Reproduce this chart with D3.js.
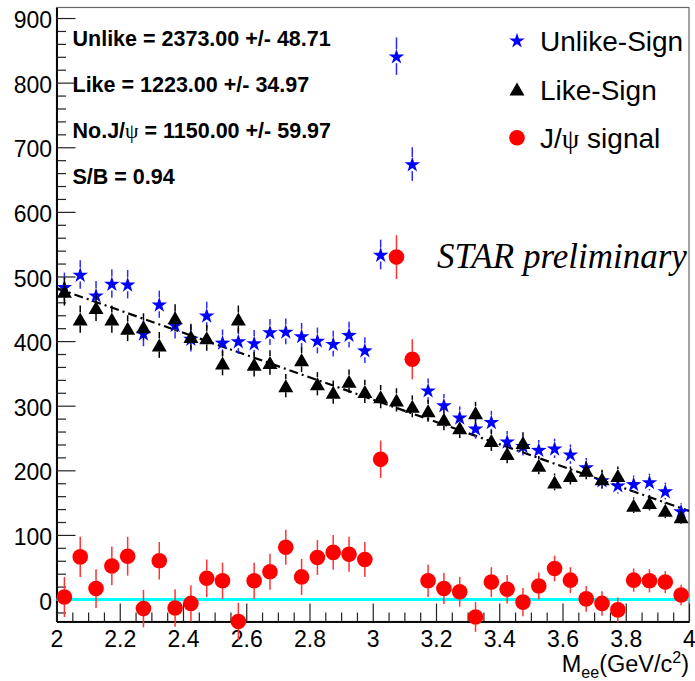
<!DOCTYPE html>
<html><head><meta charset="utf-8">
<script src="https://cdn.jsdelivr.net/npm/d3@7/dist/d3.min.js"></script>
<style>body{margin:0;background:#fff} svg{display:block}</style>
</head><body>
<svg id="c" width="695" height="681"></svg>
<script>
// ---- data ----
const binCenters = [2.025,2.075,2.125,2.175,2.225,2.275,2.325,2.375,2.425,2.475,
  2.525,2.575,2.625,2.675,2.725,2.775,2.825,2.875,2.925,2.975,
  3.025,3.075,3.125,3.175,3.225,3.275,3.325,3.375,3.425,3.475,
  3.525,3.575,3.625,3.675,3.725,3.775,3.825,3.875,3.925,3.975];
const unlike = [484,503,471,489,488,412,457,425,404,440,
  398,400,397,414,415,408,401,396,410,386,
  534,841,674,324,301,282,265,275,245,238,
  232,234,225,205,185,177,179,182,168,137];
const unlikeErr = [22,22,22,22,22,20,21,21,20,21,
  20,20,20,20,20,20,20,20,20,20,
  23,29,26,18,17,17,16,17,16,15,
  15,15,15,14,14,13,13,13,13,12];
const like = [477,434,452,434,420,422,394,436,407,405,
  366,434,364,367,331,371,334,321,338,322,
  314,309,299,292,279,266,289,246,226,243,
  208,182,192,200,187,192,146,150,138,128];
const likeErr = [22,21,21,21,20,21,20,21,20,20,
  19,21,19,19,18,19,18,18,18,18,
  18,18,17,17,17,16,17,16,15,16,
  14,13,14,14,14,14,12,12,12,11];
const jpsi = [4,66,17,52,67,-14,60,-13,-6,33,
  29,-34,29,43,81,35,65,73,70,62,
  217,530,372,29,17,12,-27,27,16,-4,
  21,48,30,1,-6,-16,30,29,27,7];
const jpsiErr = [31,31,30,30,30,29,29,29,28,29,
  28,29,28,28,27,28,27,27,27,27,
  29,34,31,25,24,23,23,23,22,22,
  21,20,20,20,19,19,18,18,17,16];
const fitX = [2.0, 4.0];
const fitY = [482, 137];
const yTicks = [0,100,200,300,400,500,600,700,800,900];
const xTicks = [2,2.2,2.4,2.6,2.8,3,3.2,3.4,3.6,3.8,4];
const xTickLabels = ["2","2.2","2.4","2.6","2.8","3","3.2","3.4","3.6","3.8","4"];
const statLines = ["Unlike = 2373.00 +/- 48.71","Like = 1223.00 +/- 34.97",
  "No.J/\u03c8 = 1150.00 +/- 59.97","S/B = 0.94"];
const legendLabels = ["Unlike-Sign","Like-Sign","J/\u03c8 signal"];
const watermark = "STAR preliminary";

// ---- drawing ----
const SANS = "'Liberation Sans', Arial, Helvetica, sans-serif";
const SERIF = "'Liberation Serif', 'Times New Roman', serif";
const svg = d3.select("#c");
const x = d3.scaleLinear().domain([2,4]).range([56.5,689]);
const y = d3.scaleLinear().domain([-34,916.3]).range([621.5,7.5]);

// frame
svg.append("rect").attr("x",x(2)).attr("y",y(916.3)).attr("width",x(4)-x(2))
  .attr("height",y(-34)-y(916.3)).attr("fill","none").attr("stroke","#666").attr("stroke-width",1.2);

// y axis
const yMinor = d3.range(-20, 901, 20).filter(v => v % 100 !== 0);
svg.append("g").attr("transform",`translate(${x(2)},0)`)
  .call(d3.axisLeft(y).tickValues(yMinor).tickSize(-9.5).tickSizeOuter(0).tickFormat(""));
const gy = svg.append("g").attr("transform",`translate(${x(2)},0)`)
  .call(d3.axisLeft(y).tickValues(yTicks).tickSize(-19).tickSizeOuter(0).tickPadding(4.5)
  .tickFormat(d => String(d)));
gy.selectAll("text").attr("font-family",SANS).attr("font-size",23).attr("fill","#000").attr("dy","0.42em");

// x axis
const xMinor = d3.range(2.05, 4, 0.05).filter(v => Math.abs(v*5 - Math.round(v*5)) > 1e-6);
svg.append("g").attr("transform",`translate(0,${y(-34)})`)
  .call(d3.axisBottom(x).tickValues(xMinor).tickSize(-9).tickSizeOuter(0).tickFormat(""));
const gx = svg.append("g").attr("transform",`translate(0,${y(-34)})`)
  .call(d3.axisBottom(x).tickValues(xTicks).tickSize(-18).tickSizeOuter(0).tickPadding(9)
  .tickFormat((d,i) => xTickLabels[i]));
gx.selectAll("text").attr("font-family",SANS).attr("font-size",23).attr("fill","#000");
svg.selectAll(".domain").attr("stroke","#000").attr("stroke-width",1.6);
svg.selectAll(".tick line").attr("stroke","#222").attr("stroke-width",1.2);

// x axis title
const xt = svg.append("text").attr("x",689).attr("y",672).attr("text-anchor","end")
  .attr("font-family",SANS).attr("font-size",23.5).attr("fill","#000");
xt.append("tspan").text("M");
xt.append("tspan").attr("font-size",16).attr("dy",6).text("ee");
xt.append("tspan").attr("dy",-6).text("(GeV/c");
xt.append("tspan").attr("font-size",16).attr("dy",-9).text("2");
xt.append("tspan").attr("dy",9).text(")");

// cyan zero line
svg.append("line").attr("x1",x(2)).attr("x2",x(4)).attr("y1",y(0)).attr("y2",y(0))
  .attr("stroke","#00ffff").attr("stroke-width",3);

// fit line (dash-dot)
svg.append("path").datum(fitX.map((v,i)=>[v,fitY[i]]))
  .attr("d", d3.line().x(d=>x(d[0])).y(d=>y(d[1])))
  .attr("fill","none").attr("stroke","#000").attr("stroke-width",2.2)
  .attr("stroke-dasharray","9,4,2,4");

// marker shapes
function starPath(R){
  const r = R*0.382; let p = "";
  for (let k=0;k<10;k++){
    const a = -Math.PI/2 + k*Math.PI/5;
    const rr = k%2===0 ? R : r;
    p += (k===0?"M":"L") + (rr*Math.cos(a)).toFixed(2) + "," + (rr*Math.sin(a)+R*0.095).toFixed(2);
  }
  return p + "Z";
}
function triPath(w,h){ return `M0,${-h/2}L${w/2},${h/2}L${-w/2},${h/2}Z`; }

function drawSeries(vals, errs, color, errColor, gap, drawMarker){
  const g = svg.append("g");
  vals.forEach((v,i)=>{
    const cx = x(binCenters[i]), cy = y(v);
    const top = y(v+errs[i]), bot = y(v-errs[i]);
    if (cy - gap > top) g.append("line").attr("x1",cx).attr("x2",cx).attr("y1",top).attr("y2",cy-gap)
      .attr("stroke",errColor).attr("stroke-width",1.5);
    if (cy + gap < bot) g.append("line").attr("x1",cx).attr("x2",cx).attr("y1",cy+gap).attr("y2",bot)
      .attr("stroke",errColor).attr("stroke-width",1.5);
  });
  vals.forEach((v,i)=> drawMarker(g, x(binCenters[i]), y(v), color));
}
const star = (g,cx,cy,c)=> g.append("path").attr("d",starPath(8.2)).attr("transform",`translate(${cx},${cy})`).attr("fill",c);
const tri = (g,cx,cy,c)=> g.append("path").attr("d",triPath(15,13)).attr("transform",`translate(${cx},${cy})`).attr("fill",c);
const circ = (g,cx,cy,c)=> g.append("circle").attr("cx",cx).attr("cy",cy).attr("r",7.8).attr("fill",c);

drawSeries(unlike, unlikeErr, "#0000ff", "#2a2aff", 7, star);
drawSeries(like, likeErr, "#000", "#000", 6.5, tri);
drawSeries(jpsi, jpsiErr, "#ff0000", "#ff3333", 7.5, circ);

// stat text
function richText(sel, str, greekFont){
  const parts = str.split("\u03c8");
  parts.forEach((p,i)=>{
    if (i>0) sel.append("tspan").attr("font-family",greekFont).attr("font-weight","normal").text("\u03c8");
    sel.append("tspan").text(p);
  });
}
const statBase = [46, 92, 138, 184];
statLines.forEach((s,i)=>{
  const t = svg.append("text").attr("x",72.5).attr("y",statBase[i])
    .attr("font-family",SANS).attr("font-weight","bold").attr("font-size",21.5).attr("fill","#000");
  richText(t, s, SERIF);
});

// legend
const legBase = [50.7, 99.5, 148.3];
const legMarkers = [star, tri, circ];
const legColors = ["#0000ff","#000","#ff0000"];
const lg = svg.append("g");
legendLabels.forEach((s,i)=>{
  legMarkers[i](lg, 517, legBase[i]-10.5, legColors[i]);
  const t = lg.append("text").attr("x",540).attr("y",legBase[i])
    .attr("font-family",SANS).attr("font-size",28).attr("fill","#000");
  richText(t, s, SERIF);
});

// watermark
svg.append("text").attr("x",437).attr("y",268).attr("font-family",SERIF)
  .attr("font-style","italic").attr("font-size",35).attr("fill","#000").text(watermark);
</script>
</body></html>
